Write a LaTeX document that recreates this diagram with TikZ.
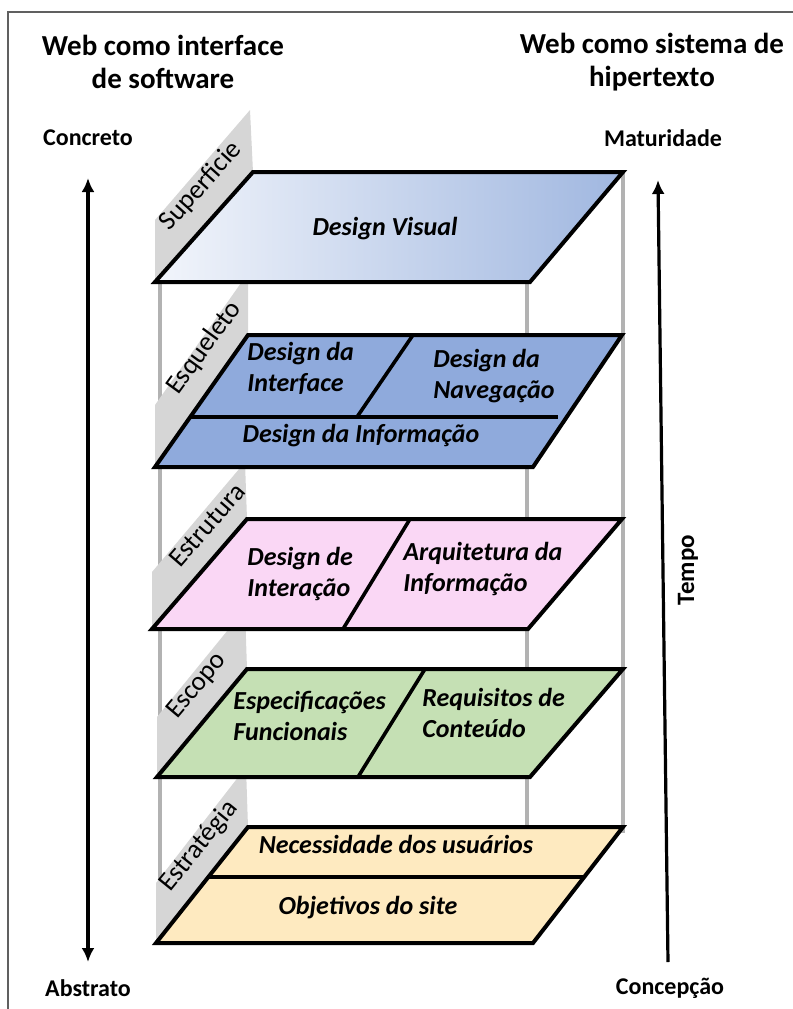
\documentclass[tikz,border=0pt]{standalone}
\usepackage{fontspec}
\setmainfont{Carlito}
\usepackage{xcolor}
\usetikzlibrary{arrows.meta}
\definecolor{supleft}{RGB}{242,245,251}
\definecolor{supright}{RGB}{160,183,224}
\definecolor{esqblue}{RGB}{143,170,220}
\definecolor{estpink}{RGB}{250,215,245}
\definecolor{escgreen}{RGB}{197,224,180}
\definecolor{strtan}{RGB}{254,234,192}

\begin{document}
\begin{tikzpicture}[x=0.5pt,y=-0.5pt]
    \tikzstyle{plane}=[draw=black,line width=2pt,line join=miter]
    \tikzstyle{divider}=[draw=black,line width=1.8pt]
    \tikzstyle{wall}=[fill=gray!32]
    \tikzstyle{post}=[draw=gray!60,line width=1.6pt]
    \tikzstyle{layer}=[font=\fontsize{13.5}{15}\selectfont,inner sep=0pt]
    \tikzstyle{item}=[font=\fontsize{13}{15.5}\selectfont\bfseries\itshape,align=left,inner sep=0pt]
    \tikzstyle{title}=[font=\fontsize{14.5}{16.5}\selectfont\bfseries,align=center]
    \tikzstyle{side}=[font=\fontsize{12}{14}\selectfont\bfseries]
    \tikzstyle{bigarrow}=[line width=1.6pt,-{Latex[length=7pt,width=6.5pt]}]

    \useasboundingbox (0,0) rectangle (793,1009);
    \draw[gray!75!black,line width=1pt] (8,1009) -- (8,12) -- (793,12);

    % posts behind the planes
    \path[post] (160,282) -- (160,943);
    \path[post] (527,282) -- (527,827);
    \path[post] (623,172) -- (623,833);

    % walls with the layer names
    \path[wall] (155,282) -- (253,172) -- (250,110) -- (155,220) -- cycle;
    \path[wall] (155,467) -- (248,335) -- (248,273) -- (155,405) -- cycle;
    \path[wall] (152,629) -- (247,519) -- (245,462) -- (152,572) -- cycle;
    \path[wall] (157,777) -- (247,669) -- (245,609) -- (157,717) -- cycle;
    \path[wall] (156,943) -- (248,827) -- (246,767) -- (156,883) -- cycle;
    \node (sup)[layer,rotate=48] at (201,186) {Superficie};
    \node (esq)[layer,rotate=54] at (204,348) {Esqueleto};
    \node (est)[layer,rotate=49] at (207,525) {Estrutura};
    \node (esc)[layer,rotate=50] at (197,686) {Escopo};
    \node (str)[layer,rotate=51] at (199,846) {Estratégia};

    % Superficie
    \path[plane,left color=supleft,right color=supright] (155,282) -- (253,172) -- (623,172) -- (530,282) -- cycle;
    \node (dv)[item] at (385,229) {Design Visual};

    % Esqueleto
    \path[plane,fill=esqblue] (155,467) -- (248,335) -- (622,335) -- (533,467) -- cycle;
    \path[divider] (190,417) -- (558,417);
    \path[divider] (413,335) -- (357,417);
    \node (di)[item,anchor=west] at (247,368) {Design da\\Interface};
    \node (dn)[item,anchor=west] at (433,376) {Design da\\Navegação};
    \node (dinf)[item] at (361,436) {Design da Informação};

    % Estrutura
    \path[plane,fill=estpink] (152,629) -- (247,519) -- (622,519) -- (528,629) -- cycle;
    \path[divider] (410,519) -- (343,629);
    \node (dint)[item,anchor=west] at (247,574) {Design de\\Interação};
    \node (ai)[item,anchor=west] at (403,569) {Arquitetura da\\Informação};

    % Escopo
    \path[plane,fill=escgreen] (157,777) -- (247,669) -- (623,669) -- (530,777) -- cycle;
    \path[divider] (425,669) -- (358,777);
    \node (ef)[item,anchor=west] at (233,716) {Especificações\\Funcionais};
    \node (rc)[item,anchor=west] at (422,713) {Requisitos de\\Conteúdo};

    % Estrategia
    \path[plane,fill=strtan] (156,943) -- (248,827) -- (623,827) -- (533,943) -- cycle;
    \path[divider] (208,877) -- (585,877);
    \node (nu)[item] at (396,844) {Necessidade dos usuários};
    \node (os)[item] at (368,908) {Objetivos do site};

    % titles and axes
    \node (wi)[title] at (163,62) {Web como interface\\de software};
    \node (ws)[title] at (652,62) {Web como sistema de\\hipertexto};
    \node (con)[side] at (88,138) {Concreto};
    \node (abs)[side] at (88,988) {Abstrato};
    \node (mat)[side] at (663,138) {Maturidade};
    \node (cpc)[side] at (670,988) {Concepção};
    \node (tmp)[side,rotate=90,font=\fontsize{12.5}{14}\selectfont\bfseries] at (688,570) {Tempo};

    \coordinate (ltop) at (88,178);
    \coordinate (lbot) at (88,962);
    \coordinate (rtop) at (658,180);
    \coordinate (rbot) at (668,962);
    \draw[bigarrow,{Latex[length=7pt,width=6.5pt]}-{Latex[length=7pt,width=6.5pt]}] (ltop) -- (lbot);
    \draw[bigarrow] (rbot) -- (rtop);
\end{tikzpicture}
\end{document}
